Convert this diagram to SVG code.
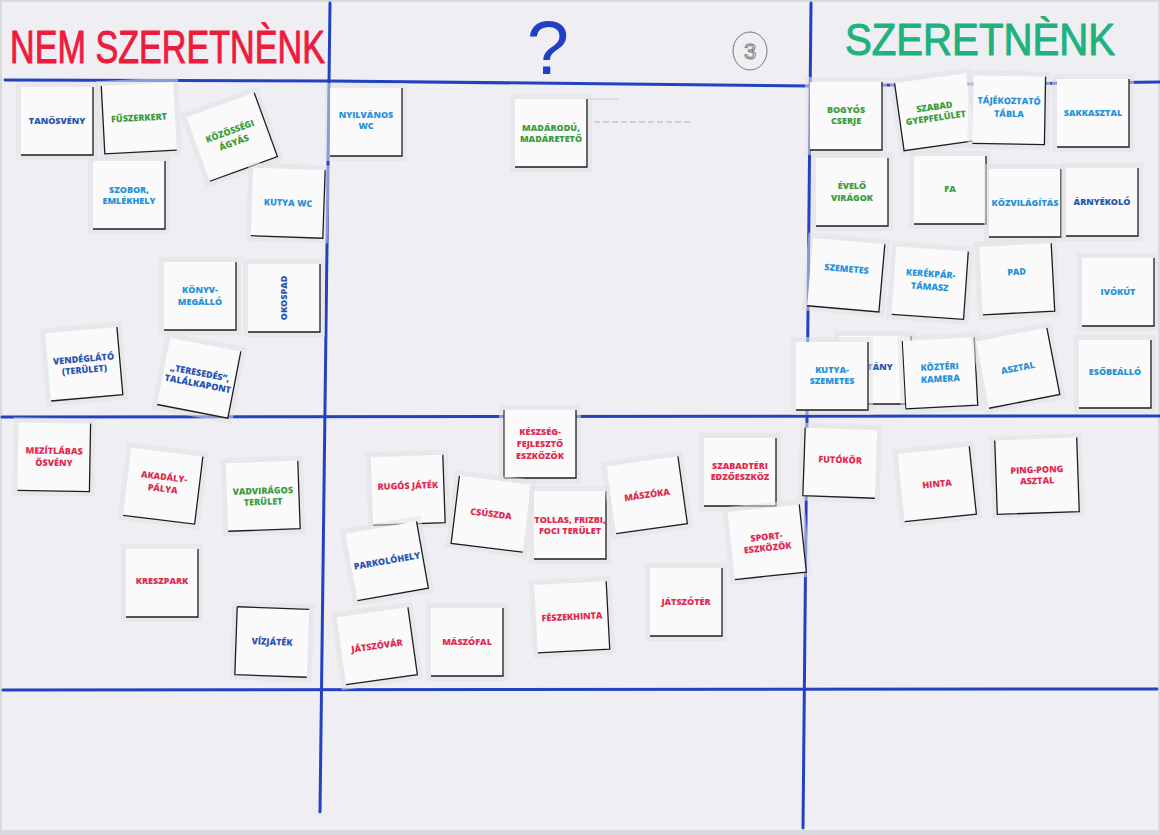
<svg xmlns="http://www.w3.org/2000/svg" xmlns:xlink="http://www.w3.org/1999/xlink" width="1160" height="835" viewBox="0 0 1160 835">
<style>
.t{font-family:"Open Sans","Liberation Sans",sans-serif;font-weight:800;font-size:9px;text-anchor:middle}
.r{fill:#e02a50}.g{fill:#3d9c3d}.b{fill:#2792d8}.d{fill:#2a55ae}
.hd{font-family:"Liberation Sans","DejaVu Sans",sans-serif;stroke-linejoin:round}
.grid{fill:none;stroke:#2342c0;stroke-width:3;stroke-linecap:round}
</style>
<defs>
<g id="card">
<rect x="-41" y="-39" width="82" height="78" fill="#e2e1e6" opacity="0.55"/>
<rect x="-36" y="-34" width="72" height="68" fill="#fafafb"/>
<path d="M36,-34V34H-36" fill="none" stroke="#1e1e1e" stroke-width="1.3"/>
</g>
<g id="cardL">
<rect x="-41" y="-39" width="82" height="78" fill="#e2e1e6" opacity="0.55"/>
<rect x="-36" y="-34" width="72" height="68" fill="#fafafb"/>
<path d="M-36,-34V34H36" fill="none" stroke="#1e1e1e" stroke-width="1.3"/>
</g>
</defs>
<rect x="0" y="0" width="1160" height="835" fill="#d9d8dd"/>
<rect x="2" y="2" width="1156" height="828" fill="#efeef2"/>

<g id="headers">
<text class="hd" x="10" y="63" font-size="46" textLength="315" lengthAdjust="spacingAndGlyphs" fill="#ec1c3e" stroke="#ec1c3e" stroke-width="1">NEM SZERETNÈNK</text>
<text class="hd" x="548" y="74" font-size="76" text-anchor="middle" fill="#2140c4">?</text>
<ellipse cx="750" cy="51" rx="17" ry="19" fill="none" stroke="#75757c" stroke-width="1"/>
<text class="hd" x="750" y="59" font-size="22" text-anchor="middle" fill="none" stroke="#6e6e75" stroke-width="0.9">3</text>
<text class="hd" x="845" y="55" font-size="44" textLength="270" lengthAdjust="spacingAndGlyphs" fill="#1fb27e" stroke="#1fb27e" stroke-width="1">SZERETNÈNK</text>
</g>

<g id="grid">
<polyline class="grid" points="5,80 330,81 810,86 1160,82"/>
<line class="grid" x1="2" y1="417" x2="1160" y2="416"/>
<line class="grid" x1="3" y1="690" x2="1157" y2="689"/>
<line class="grid" x1="330" y1="3" x2="320" y2="812"/>
<line class="grid" x1="811" y1="3" x2="803" y2="828"/>
<path d="M594,122 H692" stroke="#8a80c8" stroke-width="1.2" stroke-dasharray="6 3" opacity="0.6" fill="none"/>
<path d="M588,99 H618" stroke="#a9a3cf" stroke-width="1" opacity="0.5" fill="none"/>
</g>

<g id="tanosveny" transform="translate(57,121)"><use href="#card"/><text class="t d" y="3">TANÖSVÉNY</text></g>
<g id="fuszerkert" transform="translate(139,118) rotate(-3)"><use href="#cardL"/><text class="t g" y="3">FŰSZERKERT</text></g>
<g id="kozossegi" transform="translate(232,137) rotate(-20)"><use href="#card"/><text class="t g" y="-3">KÖZÖSSÉGI</text><text class="t g" y="9">ÁGYÁS</text></g>
<g id="szobor" transform="translate(129,195)"><use href="#card"/><text class="t b" y="-2">SZOBOR,</text><text class="t b" y="9">EMLÉKHELY</text></g>
<g id="kutyawc" transform="translate(288,203) rotate(2)"><use href="#card"/><text class="t b" y="3">KUTYA WC</text></g>
<g id="konyv" transform="translate(200,296)"><use href="#card"/><text class="t b" y="-3">KÖNYV-</text><text class="t b" y="9">MEGÁLLÓ</text></g>
<g id="okospad" transform="translate(284,298)"><use href="#card"/><text class="t d" transform="translate(3,0) rotate(-90)">OKOSPAD</text></g>
<g id="vendeglato" transform="translate(84,364) rotate(-5)"><use href="#card"/><text class="t d" y="-2">VENDÉGLÁTÓ</text><text class="t d" y="9">(TERÜLET)</text></g>
<g id="teresedes" transform="translate(199,378) rotate(11)"><use href="#card"/><text class="t d" y="-2">„TERESEDÉS”,</text><text class="t d" y="9">TALÁLKAPONT</text></g>
<g id="mezitlabas" transform="translate(54,457) rotate(1)"><use href="#card"/><text class="t r" y="-3">MEZÍTLÁBAS</text><text class="t r" y="9">ÖSVÉNY</text></g>
<g id="akadaly" transform="translate(163,486) rotate(7)"><use href="#card"/><text class="t r" y="-6">AKADÁLY-</text><text class="t r" y="6">PÁLYA</text></g>
<g id="vadviragos" transform="translate(263,496) rotate(-2)"><use href="#card"/><text class="t g" y="-2">VADVIRÁGOS</text><text class="t g" y="9">TERÜLET</text></g>
<g id="kreszpark" transform="translate(162,583)"><use href="#card"/><text class="t r" y="1">KRESZPARK</text></g>
<g id="vizjatek" transform="translate(272,642) rotate(2)"><use href="#cardL"/><path d="M-36,-34H36" stroke="#1e1e1e" stroke-width="1.3"/><text class="t d" y="3">VÍZJÁTÉK</text></g>

<g id="nyilvanos" transform="translate(366,122)"><use href="#card"/><text class="t b" y="-4">NYILVÁNOS</text><text class="t b" y="7">WC</text></g>
<g id="madarodu" transform="translate(551,133)"><use href="#card"/><text class="t g" y="-2">MADÁRODÚ,</text><text class="t g" y="9">MADÁRETETŐ</text></g>
<g id="keszseg" transform="translate(540,444)"><use href="#card"/><path d="M-36,-34V34" stroke="#1e1e1e" stroke-width="1.1"/><text class="t r" y="-9" font-size="8.5">KÉSZSÉG-</text><text class="t r" y="3" font-size="8.5">FEJLESZTŐ</text><text class="t r" y="15" font-size="8.5">ESZKÖZÖK</text></g>
<g id="rugos" transform="translate(408,490) rotate(-2)"><use href="#card"/><text class="t r" y="-1">RUGÓS JÁTÉK</text></g>
<g id="csuszda" transform="translate(491,514) rotate(7)"><use href="#cardL"/><text class="t r" y="3">CSÚSZDA</text></g>
<g id="tollas" transform="translate(570,525)"><use href="#card"/><text class="t r" y="-2">TOLLAS, FRIZBI,</text><text class="t r" y="9">FOCI TERÜLET</text></g>
<g id="maszoka" transform="translate(647,495) rotate(-8)"><use href="#card"/><text class="t r" y="3">MÁSZÓKA</text></g>
<g id="szabadteri" transform="translate(740,472)"><use href="#card"/><text class="t r" y="-3">SZABADTÉRI</text><text class="t r" y="8">EDZŐESZKÖZ</text></g>
<g id="parkolo" transform="translate(387,561) rotate(-10)"><use href="#card"/><text class="t d" y="3">PARKOLÓHELY</text></g>
<g id="sport" transform="translate(767,542) rotate(-6)"><use href="#card"/><text class="t r" y="-2">SPORT-</text><text class="t r" y="9">ESZKÖZÖK</text></g>
<g id="jatszoter" transform="translate(686,602)"><use href="#card"/><text class="t r" y="3">JÁTSZÓTÉR</text></g>
<g id="jatszovar" transform="translate(377,646) rotate(-8)"><use href="#card"/><text class="t r" y="3">JÁTSZÓVÁR</text></g>
<g id="maszofal" transform="translate(467,642)"><use href="#card"/><text class="t r" y="3">MÁSZÓFAL</text></g>
<g id="feszekhinta" transform="translate(572,617) rotate(-3)"><use href="#card"/><text class="t r" y="3">FÉSZEKHINTA</text></g>

<g id="bogyos" transform="translate(846,116)"><use href="#card"/><text class="t g" y="-3">BOGYÓS</text><text class="t g" y="8">CSERJE</text></g>
<g id="szabadgyep" transform="translate(935,112) rotate(-8)"><use href="#cardL"/><text class="t g" y="-2">SZABAD</text><text class="t g" y="9">GYEPFELÜLET</text></g>
<g id="tajekoztato" transform="translate(1009,110) rotate(1)"><use href="#card"/><text class="t b" y="-6">TÁJÉKOZTATÓ</text><text class="t b" y="7">TÁBLA</text></g>
<g id="sakkasztal" transform="translate(1093,113)"><use href="#card"/><text class="t b" y="3">SAKKASZTAL</text></g>
<g id="evelo" transform="translate(852,192)"><use href="#card"/><text class="t g" y="-3">ÉVELŐ</text><text class="t g" y="9">VIRÁGOK</text></g>
<g id="fa" transform="translate(950,190)"><use href="#card"/><text class="t g" y="2">FA</text></g>
<g id="kozvilagitas" transform="translate(1025,203)"><use href="#card"/><text class="t b" y="3">KÖZVILÁGÍTÁS</text></g>
<g id="arnyekolo" transform="translate(1102,202)"><use href="#card"/><text class="t d" y="3">ÁRNYÉKOLÓ</text></g>
<g id="szemetes" transform="translate(846,275) rotate(5)"><use href="#card"/><text class="t b" y="-3">SZEMETES</text></g>
<g id="kerekpar" transform="translate(930,283) rotate(4)"><use href="#card"/><text class="t b" y="-6">KERÉKPÁR-</text><text class="t b" y="7">TÁMASZ</text></g>
<g id="pad" transform="translate(1017,279) rotate(-3)"><use href="#card"/><text class="t b" y="-4">PAD</text></g>
<g id="ivokut" transform="translate(1118,292)"><use href="#card"/><text class="t b" y="3">IVÓKÚT</text></g>
<g id="tany" transform="translate(875,370)"><use href="#card"/><text class="t d" x="5" y="0">TÁNY</text></g>
<g id="kutyaszemetes" transform="translate(832,376)"><use href="#card"/><text class="t b" y="-3">KUTYA-</text><text class="t b" y="8">SZEMETES</text></g>
<g id="kozteri" transform="translate(940,373) rotate(-3)"><use href="#card"/><path d="M-36,-34V34" stroke="#1e1e1e" stroke-width="1.1"/><text class="t b" y="-3">KÖZTÉRI</text><text class="t b" y="9">KAMERA</text></g>
<g id="asztal" transform="translate(1018,368) rotate(-11)"><use href="#card"/><text class="t b" y="3">ASZTAL</text></g>
<g id="esobeallo" transform="translate(1115,374)"><use href="#card"/><text class="t b" y="1">ESŐBEÁLLÓ</text></g>
<g id="futokor" transform="translate(840,463) rotate(2)"><use href="#cardL"/><text class="t r" y="0">FUTÓKÖR</text></g>
<g id="hinta" transform="translate(937,484) rotate(-6)"><use href="#card"/><text class="t r" y="3">HINTA</text></g>
<g id="pingpong" transform="translate(1037,476) rotate(-2)"><rect x="-46" y="-41" width="92" height="82" fill="#e2e1e6" opacity="0.55"/><rect x="-41" y="-37" width="82" height="74" fill="#fafafb"/><path d="M-41,-37V37H41V-37" fill="none" stroke="#1e1e1e" stroke-width="1.3"/><text class="t r" y="-3">PING-PONG</text><text class="t r" y="8">ASZTAL</text></g>
</svg>
